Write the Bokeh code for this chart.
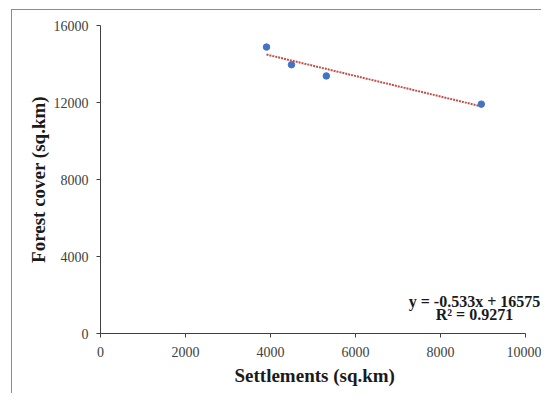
from bokeh.plotting import figure
from bokeh.models import FixedTicker, Label, ColumnDataSource, Title
from bokeh.embed import file_html
from bokeh.resources import INLINE

# Data
settlements = [3906, 4494, 5313, 8960]
forest_cover = [14880, 13965, 13380, 11915]
slope = -0.533
intercept = 16575
r_squared = 0.9271
x_ticks = [0, 2000, 4000, 6000, 8000, 10000]
y_ticks = [0, 4000, 8000, 12000, 16000]
x_title = "Settlements (sq.km)"
y_title = "Forest cover (sq.km)"

FONT = "Liberation Serif"

p = figure(width=530, height=384, output_backend="svg", toolbar_location=None,
           x_range=(0, 10400), y_range=(0, 16000),
           min_border_left=88, min_border_right=0, min_border_top=15, min_border_bottom=61)
p.styles = {"margin-left": "11px", "margin-top": "9px",
            "border-top": "1px solid #8c8c8c", "border-left": "1px solid #8c8c8c"}
p.outline_line_color = None
p.xgrid.visible = False
p.ygrid.visible = False
p.background_fill_color = "white"
p.border_fill_color = "white"

# trendline
tx = [min(settlements), max(settlements)]
ty = [slope * v + intercept for v in tx]
p.line(tx, ty, line_color="#c0504d", line_width=2, line_dash="2 1")

src = ColumnDataSource(dict(x=settlements, y=forest_cover))
p.scatter("x", "y", source=src, size=6.5, fill_color="#4472c4", line_color="#4472c4")

for ax in (p.xaxis[0], p.yaxis[0]):
    ax.axis_line_color = "#404040"
    ax.major_tick_line_color = "#404040"
    ax.minor_tick_line_color = None
    ax.major_tick_in = 0
    ax.major_tick_out = 4
    ax.major_label_text_font = FONT
    ax.major_label_text_font_size = "14px"
    ax.major_label_text_color = "#404040"
    ax.axis_label_text_font = FONT
    ax.axis_label_text_font_size = "19px"
    ax.axis_label_text_font_style = "bold"
    ax.axis_label_text_color = "#1a1a1a"

p.xaxis.bounds = (0, 10000)
p.xaxis.ticker = FixedTicker(ticks=x_ticks)
p.yaxis.ticker = FixedTicker(ticks=y_ticks)
p.yaxis.axis_label = y_title
p.xaxis.major_label_standoff = 9
p.yaxis.major_label_standoff = 8
p.yaxis.axis_label_standoff = 2

xt = Title(text=x_title, align="left", offset=134, standoff=6,
           text_font=FONT, text_font_size="19px", text_font_style="bold",
           text_color="#1a1a1a")
p.add_layout(xt, "below")

eq1 = Label(x=8800, y=1662, text=f"y = {slope}x + {intercept}", text_align="center",
            text_baseline="middle", text_font=FONT, text_font_size="16px",
            text_font_style="bold", text_color="#1a1a1a")
eq2 = Label(x=8800, y=987, text=f"R² = {r_squared}", text_align="center",
            text_baseline="middle", text_font=FONT, text_font_size="16px",
            text_font_style="bold", text_color="#1a1a1a")
p.add_layout(eq1)
p.add_layout(eq2)

open("out.html", "w").write(file_html(p, INLINE))
